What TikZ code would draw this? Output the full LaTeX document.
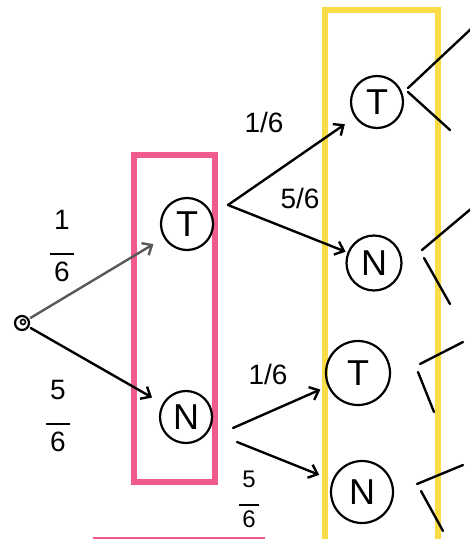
\documentclass[tikz,border=0pt]{standalone}
\usepackage{fontspec}
\setmainfont{Liberation Sans}
\usetikzlibrary{arrows.meta}
\definecolor{pinkframe}{RGB}{240,90,140}
\definecolor{yellowframe}{RGB}{249,221,71}
\begin{document}
\begin{tikzpicture}[x=1pt,y=-1pt,
  st/.style={draw, circle, line width=2.2pt, minimum size=52pt, inner sep=0pt, font=\fontsize{36}{38}\selectfont},
  edge/.style={line width=2.4pt, line cap=round, -{Straight Barb[length=8pt,width=14pt,line width=2.4pt]}},
  stub/.style={line width=2.4pt, line cap=round},
  lab/.style={font=\fontsize{28}{28}\selectfont, align=center, inner sep=0pt},
  frac/.style={font=\fontsize{28}{28}\selectfont, align=center, inner sep=0pt},
  frame/.style={line width=6pt}]
\useasboundingbox (0,0) rectangle (470,539);
\clip (0,0) rectangle (470,539);
\fill[white] (0,0) rectangle (470,539);

% frames
\draw[frame, pinkframe] (134,155) rectangle (215,482);
\draw[frame, yellowframe] (325,10) rectangle (438,580);
\draw[line width=3pt, pinkframe] (93,538) -- (265,538);

% nodes
\node[draw, circle, line width=2.2pt, minimum size=14pt, inner sep=0pt] (root) at (22,323) {};
\node[draw, circle, line width=1.6pt, minimum size=5pt, inner sep=0pt] (rootin) at (23,322) {};
\node[st] (t1) at (187,224) {T};
\node[st] (n1) at (186,417) {N};
\node[st] (t2) at (377,102) {T};
\node[st, minimum size=55pt] (n2) at (374,263) {N};
\node[st, minimum size=64pt] (t3) at (358,373) {T};
\node[st, minimum size=62pt] (n3) at (362,492) {N};

% start points of the branches leaving T and N
\coordinate (t1o) at (228,205);
\coordinate (n1a) at (233,428);
\coordinate (n1b) at (237,442);

% edges
\draw[edge, black!65, shorten <=2pt, shorten >=12pt] (root) -- (t1);
\draw[edge, shorten <=2pt, shorten >=12pt] (root) -- (n1);
\draw[edge, shorten >=12pt] (t1o) -- (t2);
\draw[edge, shorten >=2pt] (t1o) -- (n2);
\draw[edge, shorten >=8pt] (n1a) -- (t3);
\draw[edge, shorten >=14pt] (n1b) -- (n3);

% edge labels
\node[frac] (l1) at (62,246) {1\\[-3pt]\rule{24pt}{2pt}\\[-1pt]6};
\node[frac] (l2) at (58,416) {5\\[-3pt]\rule{24pt}{2pt}\\[-1pt]6};
\node[lab] (l3) at (264,122) {1/6};
\node[lab] (l4) at (300,198) {5/6};
\node[lab] (l5) at (268,374) {1/6};
\node[frac, font=\fontsize{24}{24}\selectfont] (l6) at (249,499) {5\\[-5pt]\rule{20pt}{2pt}\\[-3pt]6};

% outgoing stubs (cut off at the right edge)
\coordinate (a1) at (408,88);  \coordinate (a1u) at (472,28);
\coordinate (a2) at (408,92);  \coordinate (a2d) at (450,130);
\coordinate (b1) at (422,250); \coordinate (b1u) at (472,208);
\coordinate (b2) at (424,258); \coordinate (b2d) at (450,304);
\coordinate (c1) at (420,364); \coordinate (c1u) at (463,342);
\coordinate (c2) at (418,372); \coordinate (c2d) at (434,412);
\coordinate (d1) at (417,484); \coordinate (d1u) at (463,465);
\coordinate (d2) at (421,491); \coordinate (d2d) at (443,531);
\draw[stub] (a1) -- (a1u);
\draw[stub] (a2) -- (a2d);
\draw[stub] (b1) -- (b1u);
\draw[stub] (b2) -- (b2d);
\draw[stub] (c1) -- (c1u);
\draw[stub] (c2) -- (c2d);
\draw[stub] (d1) -- (d1u);
\draw[stub] (d2) -- (d2d);
\end{tikzpicture}
\end{document}
